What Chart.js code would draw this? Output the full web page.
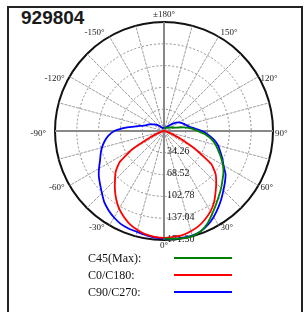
<!DOCTYPE html>
<html>
<head>
<meta charset="utf-8">
<script src="https://cdn.jsdelivr.net/npm/chart.js@4.4.0/dist/chart.umd.min.js"></script>
<style>
  body { margin: 0; background: #fff; }
  #wrap { position: relative; width: 308px; height: 312px; overflow: hidden; }
  #frame { position: absolute; left: 7px; top: 6px; width: 292px; height: 320px; border: 2px solid #222; }
  #title { position: absolute; left: 21px; top: 7px; font: bold 19px "Liberation Sans", Arial, sans-serif; color: #1a1a1a; }
  canvas { position: absolute; left: 0; top: 0; }
</style>
</head>
<body>
<div id="wrap">
  <div id="frame"></div>
  <div id="title">929804</div>
  <canvas id="polar" width="308" height="312"></canvas>
</div>
<script>
// gamma angles on one side of the plane, 0° (down) to 180° (up)
const gammaSide = [0, 5, 10, 15, 20, 25, 30, 35, 40, 45, 50, 55, 60, 65, 70, 75, 80, 85, 90,
  95, 100, 105, 110, 115, 120, 125, 130, 135, 140, 145, 150, 155, 160, 165, 170, 175, 180];

// intensities (cd/klm) per gamma
const c0 = [168, 167, 166, 163, 159, 153, 146, 137, 126, 116, 106, 91, 56, 28, 12, 5, 2, 1, 0,
  0, 0, 0, 0, 0, 0, 0, 0, 0, 0, 0, 0, 0, 0, 0, 0, 0, 0];
const c180 = [168, 167, 165, 161, 156, 149, 141, 131, 120, 109, 99, 85, 58, 25, 10, 4, 2, 1, 0,
  0, 0, 0, 0, 0, 0, 0, 0, 0, 0, 0, 0, 0, 0, 0, 0, 0, 0];
const c45 = [169, 170, 171, 171, 168, 161, 151, 142, 134, 127, 120, 114, 107, 99, 91, 84, 76, 66, 53,
  44, 32, 21, 16, 13, 11, 9, 8, 7, 7, 6, 6, 6, 5, 5, 5, 5, 5];
const c90 = [169, 170, 170, 170, 168, 163, 156, 148, 140, 132, 125, 118, 108, 101, 94, 88, 80, 70, 60,
  48, 40, 36, 33, 30, 27, 23, 18, 13, 10, 8, 7, 6, 6, 5, 5, 5, 5];
const c270 = [169, 168, 166, 164, 163, 161, 157, 152, 146, 138, 131, 125, 118, 111, 106, 101, 95, 88, 78,
  60, 43, 33, 28, 25, 21, 18, 15, 12, 9, 7, 6, 5, 5, 5, 5, 5, 5];

const rings = [34.26, 68.52, 102.78, 137.04, 171.3];
const angleMarks = [0, 30, 60, 90, 120, 150, 180, -30, -60, -90, -120, -150];
const seriesNames = ['C45(Max):', 'C0/C180:', 'C90/C270:'];
const seriesColors = ['#008000', '#ff0000', '#0000ff'];

// radar runs clockwise from the bottom: 0, -5 ... -180(=±180), 175 ... 5
const n = gammaSide.length * 2 - 2;
const labels = [], red = [], green = [], blue = [];
for (let i = 0; i < n; i++) {
  const left = i <= gammaSide.length - 1;
  const k = left ? i : n - i;
  labels.push(i === gammaSide.length - 1 ? 180 : (left ? -gammaSide[k] : gammaSide[k]));
  red.push(left ? c180[k] : c0[k]);
  blue.push(left ? c270[k] : c90[k]);
  green.push(left && i !== 0 && i !== gammaSide.length - 1 ? null : c45[k]);
}

const polarText = {
  id: 'polarText',
  beforeDatasetsDraw(chart) {
    const s = chart.scales.r;
    const c = chart.ctx;
    c.save();
    c.fillStyle = '#222';
    c.textBaseline = 'middle';
    c.textAlign = 'left';
    c.font = '10px "Liberation Serif", serif';
    rings.forEach(v => {
      c.fillText(v.toFixed(2), s.xCenter + 3, s.yCenter + s.getDistanceFromCenterForValue(v) - 1);
    });
    c.font = '9px "Liberation Serif", serif';
    angleMarks.forEach(g => {
      const p = s.getPointPositionForValue(labels.indexOf(g), s.max);
      const txt = g === 180 ? '±180°' : g + '°';
      if (g === 0) {
        c.textAlign = 'center';
        c.fillText(txt, p.x, p.y + 6);
      } else if (g === 180) {
        c.textAlign = 'center';
        c.fillText(txt, p.x, p.y - 7);
      } else {
        c.textAlign = g > 0 ? 'left' : 'right';
        const dy = Math.abs(g) === 150 ? -4 : (Math.abs(g) === 90 ? 3 : 2);
        const dx = g > 0 ? 2 : (g === -90 ? -9 : -5);
        c.fillText(txt, p.x + dx, p.y + dy);
      }
    });
    c.restore();
  },
  afterDraw(chart) {
    const c = chart.ctx;
    c.save();
    c.font = '12px "Liberation Serif", serif';
    c.textAlign = 'left';
    c.textBaseline = 'middle';
    chart.data.datasets.forEach((ds, k) => {
      const y = 258 + 17 * k;
      c.fillStyle = '#111';
      c.fillText(ds.label, 88, y + 1);
      c.strokeStyle = ds.borderColor;
      c.lineWidth = 2;
      c.beginPath();
      c.moveTo(174, y);
      c.lineTo(232, y);
      c.stroke();
    });
    c.restore();
  }
};

const lastRing = rings[rings.length - 1];

new Chart(document.getElementById('polar'), {
  type: 'radar',
  data: {
    labels: labels,
    datasets: [
      { label: seriesNames[0], data: green, borderColor: seriesColors[0] },
      { label: seriesNames[1], data: red, borderColor: seriesColors[1] },
      { label: seriesNames[2], data: blue, borderColor: seriesColors[2] }
    ]
  },
  options: {
    responsive: false,
    animation: false,
    devicePixelRatio: 1,
    layout: { padding: { left: 55, right: 35, top: 22, bottom: 72 } },
    elements: {
      line: { borderWidth: 1.8, fill: false, tension: 0.15 },
      point: { radius: 0, hoverRadius: 0 }
    },
    plugins: { legend: { display: false }, tooltip: { enabled: false } },
    scales: {
      r: {
        min: 0,
        max: lastRing,
        startAngle: 180,
        ticks: { display: false, stepSize: rings[0] },
        pointLabels: { display: false },
        grid: {
          circular: true,
          color: ctx => ctx.tick && ctx.tick.value >= lastRing - 0.01 ? '#111' : '#8c8c8c',
          lineWidth: ctx => ctx.tick && ctx.tick.value >= lastRing - 0.01 ? 2 : 1
        },
        border: {
          dash: ctx => ctx.tick && ctx.tick.value >= lastRing - 0.01 ? [] : [2, 2]
        },
        angleLines: {
          color: ctx => ctx.index % 18 === 0 ? '#888' : (ctx.index % 3 === 0 ? '#9c9c9c' : null),
          lineWidth: ctx => ctx.index % 18 === 0 ? 2 : (ctx.index % 3 === 0 ? 1 : 0),
          borderDash: ctx => ctx.index % 18 === 0 ? [] : [3, 1]
        }
      }
    }
  },
  plugins: [polarText]
});
</script>
</body>
</html>
